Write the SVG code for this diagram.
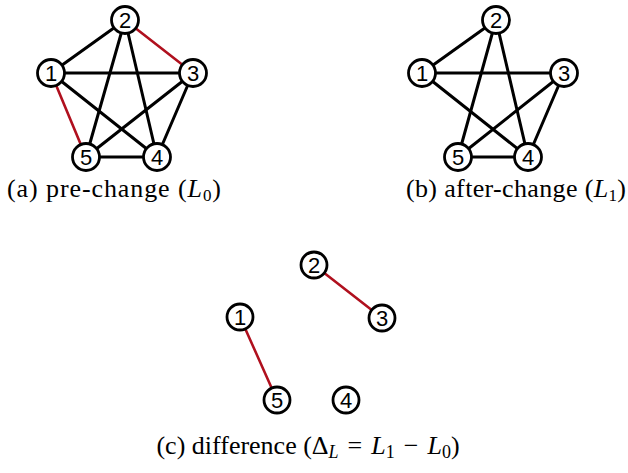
<svg xmlns="http://www.w3.org/2000/svg" width="628" height="473" viewBox="0 0 628 473">
<style>
.e{stroke:#000;stroke-width:3;stroke-linecap:round}
.r{stroke:#b0101e;stroke-width:2.6;stroke-linecap:round}
.n circle{fill:#fff;stroke:#000;stroke-width:2.8}
.n text{font-family:"Liberation Sans",Arial,sans-serif;font-size:22px;text-anchor:middle;fill:#000}
.cap{font-family:"Liberation Serif","Times New Roman",serif;font-size:26px;fill:#000;text-anchor:middle}
</style>
<rect width="628" height="473" fill="#fff"/>
<g id="connectors">
<!-- (a) -->
<line class="e" x1="51" y1="73" x2="125" y2="20"/>
<line class="e" x1="51" y1="73" x2="193" y2="73"/>
<line class="e" x1="51" y1="73" x2="157" y2="157"/>
<line class="r" x1="51" y1="73" x2="86" y2="157"/>
<line class="r" x1="125" y1="20" x2="193" y2="73"/>
<line class="e" x1="125" y1="20" x2="86" y2="157"/>
<line class="e" x1="125" y1="20" x2="157" y2="157"/>
<line class="e" x1="193" y1="73" x2="86" y2="157"/>
<line class="e" x1="193" y1="73" x2="157" y2="157"/>
<line class="e" x1="86" y1="157" x2="157" y2="157"/>
<!-- (b) -->
<line class="e" x1="422" y1="73" x2="496" y2="20"/>
<line class="e" x1="422" y1="73" x2="564" y2="73"/>
<line class="e" x1="422" y1="73" x2="528" y2="157"/>
<line class="e" x1="496" y1="20" x2="458" y2="157"/>
<line class="e" x1="496" y1="20" x2="528" y2="157"/>
<line class="e" x1="564" y1="73" x2="458" y2="157"/>
<line class="e" x1="564" y1="73" x2="528" y2="157"/>
<line class="e" x1="458" y1="157" x2="528" y2="157"/>
<!-- (c) -->
<line class="r" x1="314" y1="265" x2="382" y2="318"/>
<line class="r" x1="240" y1="317" x2="277" y2="400"/>
</g>
<g id="a1" class="n"><circle cx="51" cy="73" r="13.5"/><text x="51" y="81">1</text></g>
<g id="a2" class="n"><circle cx="125" cy="20" r="13.5"/><text x="125" y="28">2</text></g>
<g id="a3" class="n"><circle cx="193" cy="73" r="13.5"/><text x="193" y="81">3</text></g>
<g id="a4" class="n"><circle cx="157" cy="157" r="13.5"/><text x="157" y="165">4</text></g>
<g id="a5" class="n"><circle cx="86" cy="157" r="13.5"/><text x="86" y="165">5</text></g>
<g id="b1" class="n"><circle cx="422" cy="73" r="13.5"/><text x="422" y="81">1</text></g>
<g id="b2" class="n"><circle cx="496" cy="20" r="13.5"/><text x="496" y="28">2</text></g>
<g id="b3" class="n"><circle cx="564" cy="73" r="13.5"/><text x="564" y="81">3</text></g>
<g id="b4" class="n"><circle cx="528" cy="157" r="13.5"/><text x="528" y="165">4</text></g>
<g id="b5" class="n"><circle cx="458" cy="157" r="13.5"/><text x="458" y="165">5</text></g>
<g id="c1" class="n"><circle cx="240" cy="317" r="13"/><text x="240" y="325">1</text></g>
<g id="c2" class="n"><circle cx="314" cy="265" r="13"/><text x="314" y="273">2</text></g>
<g id="c3" class="n"><circle cx="382" cy="318" r="13"/><text x="382" y="326">3</text></g>
<g id="c4" class="n"><circle cx="346" cy="400" r="13"/><text x="346" y="408">4</text></g>
<g id="c5" class="n"><circle cx="277" cy="400" r="13"/><text x="277" y="408">5</text></g>
<g id="captions">
<text class="cap" x="114" y="197" textLength="214" lengthAdjust="spacing">(a) pre-change (<tspan font-style="italic">L</tspan><tspan font-size="17" dy="4">0</tspan><tspan dy="-4">)</tspan></text>
<text class="cap" x="516" y="197" textLength="220" lengthAdjust="spacing">(b) after-change (<tspan font-style="italic">L</tspan><tspan font-size="17" dy="4">1</tspan><tspan dy="-4">)</tspan></text>
<text class="cap" x="308" y="454" font-size="28">(c) difference (Δ<tspan font-style="italic" font-size="18" dy="4">L</tspan><tspan dy="-4" dx="9">=</tspan><tspan font-style="italic" dx="9">L</tspan><tspan font-size="18" dy="4">1</tspan><tspan dy="-4" dx="9">−</tspan><tspan font-style="italic" dx="9">L</tspan><tspan font-size="18" dy="4">0</tspan><tspan dy="-4">)</tspan></text>
</g>
</svg>
